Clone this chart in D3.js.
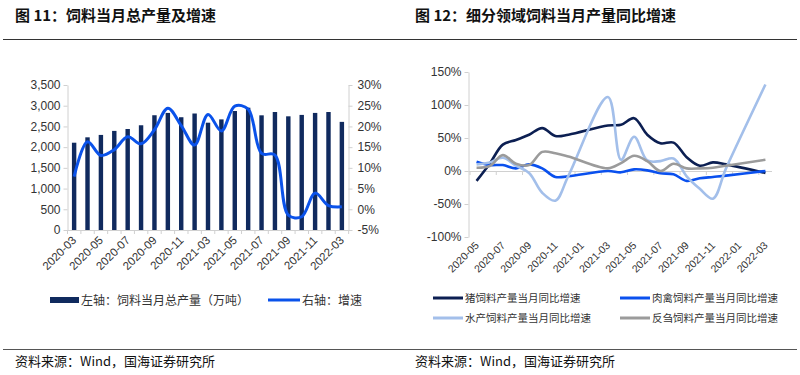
<!DOCTYPE html>
<html>
<head>
<meta charset="utf-8">
<script src="https://cdn.jsdelivr.net/npm/d3@7"></script>
<style>
  body { margin: 0; background: #fff; }
  svg { display: block; font-family: "Liberation Sans", Arial, sans-serif; }
  .cjk { font-family: "Noto Sans CJK SC", sans-serif; }
</style>
</head>
<body>
<div id="chart"></div>
<script>
const WIDTH = 800;
const HEIGHT = 375;

// left chart: monthly feed output (bars) and yoy growth (line)
const months = ["2020-03", "2020-04", "2020-05", "2020-06", "2020-07", "2020-08", "2020-09", "2020-10", "2020-11", "2020-12",
                "2021-03", "2021-04", "2021-05", "2021-06", "2021-07", "2021-08", "2021-09", "2021-10", "2021-11", "2021-12",
                "2022-03"];
const totalOutput = [2107, 2237, 2295, 2392, 2438, 2528, 2770, 2826, 2722, 2812,
                     2590, 2670, 2872, 2952, 2768, 2848, 2744, 2778, 2826, 2848, 2610];
const growth = [7.9, 16.3, 13.0, 14.4, 17.5, 15.8, 19.2, 24.4, 20.2, 15.5,
                22.9, 18.9, 24.9, 24.2, 13.5, 13.1, -1.4, -1.8, 3.9, 0.9, 0.6];
const leftTicks = [0, 500, 1000, 1500, 2000, 2500, 3000, 3500];
const rightTicks = [-5, 0, 5, 10, 15, 20, 25, 30];

// right chart: yoy growth by feed type (Jan/Feb not published)
const months2 = ["2020-05", "2020-06", "2020-07", "2020-08", "2020-09", "2020-10", "2020-11", "2020-12",
                 "2021-01", "2021-02", "2021-03", "2021-04", "2021-05", "2021-06", "2021-07", "2021-08",
                 "2021-09", "2021-10", "2021-11", "2021-12", "2022-01", "2022-02", "2022-03"];
const pig =     [-15, 11, 40, 47, 55, 65, 53, 55, null, null, 69, 70, 80, 55, 42, 43, 21, 8, 13, 10, null, null, -3];
const poultry = [14, 9, 9, 4, 10, 4, -9, -8, null, null, 0, -2, 2.5, 1, -3.5, -5, -15, -11, -9, -7, null, null, 0];
const aquatic = [10, 13, 20, 8, -3, -33, -45, -7, null, null, 112, 17, 52, 16, 15, 19, -8, -27, -42, 4, null, null, 131];
const ruminant = [5, 7.5, 24, 11, 9, 29, 27, 22, null, null, 4, 12, 23, 15, 0, 11, 4, 4, 5, 8, null, null, 17];
const pctTicks = [-100, -50, 0, 50, 100, 150];
const seriesNames = ["猪饲料产量当月同比增速", "肉禽饲料产量当月同比增速", "水产饲料产量当月同比增速", "反刍饲料产量当月同比增速"];

const AXIS_GREY = "#d0d0d0";
const TEXT = "#333";

var svg = d3.select("div#chart").append("svg")
    .attr("width", WIDTH)
    .attr("height", HEIGHT);

// titles, rules, source notes
svg.append("text").attr("class", "cjk").attr("x", 15).attr("y", 21)
    .attr("font-size", 15).attr("font-weight", "bold").attr("fill", "#111")
    .text("图 11：饲料当月总产量及增速");
svg.append("text").attr("class", "cjk").attr("x", 415).attr("y", 21)
    .attr("font-size", 15).attr("font-weight", "bold").attr("fill", "#111")
    .text("图 12：细分领域饲料当月产量同比增速");
svg.append("line").attr("x1", 3).attr("x2", 797).attr("y1", 39.5).attr("y2", 39.5)
    .attr("stroke", "#333").attr("stroke-width", 1);
svg.append("line").attr("x1", 3).attr("x2", 797).attr("y1", 349.5).attr("y2", 349.5)
    .attr("stroke", "#555").attr("stroke-width", 1);
[15, 415].forEach(x => {
  svg.append("text").attr("class", "cjk").attr("x", x).attr("y", 366)
      .attr("font-size", 13).attr("fill", "#111")
      .text("资料来源：Wind，国海证券研究所");
});

function styleAxis(g) {
  g.select(".domain").attr("stroke", AXIS_GREY);
  g.selectAll(".tick line").attr("stroke", AXIS_GREY);
  g.selectAll(".tick text").attr("fill", TEXT);
}

// ---------- left chart ----------
var x = d3.scaleBand(months, [67.5, 348.5]).paddingInner(0.67).paddingOuter(0.33);
var yL = d3.scaleLinear([0, 3500], [230, 85]);
var yR = d3.scaleLinear([-5, 30], [230, 85]);
var left = svg.append("g");

left.append("g")
    .attr("transform", "translate(67.5,0)")
    .style("font-size", "12px")
    .call(d3.axisLeft(yL).tickValues(leftTicks).tickFormat(d3.format(",")).tickSize(4).tickSizeOuter(0))
    .call(styleAxis);

left.append("g")
    .attr("transform", "translate(348.5,0)")
    .style("font-size", "12px")
    .call(d3.axisRight(yR).tickValues(rightTicks).tickFormat(d => d + "%").tickSize(4).tickSizeOuter(0))
    .call(styleAxis)
    .call(g => g.selectAll(".tick text").attr("x", 9));

// x axis: ticks on category boundaries
var step = x.step();
var bounds = d3.range(months.length + 1).map(i => x.range()[0] + i * step);
var xAxisG = left.append("g");
xAxisG.append("line").attr("x1", x.range()[0]).attr("x2", x.range()[1])
    .attr("y1", 230.5).attr("y2", 230.5).attr("stroke", AXIS_GREY);
xAxisG.selectAll("line.tk").data(bounds).join("line").attr("class", "tk")
    .attr("x1", d => d).attr("x2", d => d).attr("y1", 230).attr("y2", 234)
    .attr("stroke", AXIS_GREY);
xAxisG.selectAll("text").data(months.filter((d, i) => i % 2 === 0)).join("text")
    .attr("transform", d => `translate(${x(d) + x.bandwidth() / 2 + 3},${241}) rotate(-45)`)
    .attr("text-anchor", "end")
    .attr("font-size", 11.5)
    .attr("fill", TEXT)
    .text(d => d);

left.selectAll("rect.bar").data(totalOutput).join("rect")
    .attr("class", "bar")
    .attr("x", (d, i) => x(months[i]))
    .attr("width", x.bandwidth())
    .attr("y", d => yL(d))
    .attr("height", d => yL(0) - yL(d))
    .attr("fill", "#102a5e");

const growthLine = d3.line()
    .x((d, i) => x(months[i]) + x.bandwidth() / 2)
    .y(d => yR(d))
    .curve(d3.curveCatmullRom.alpha(0.5));

left.append("path")
    .attr("d", growthLine(growth))
    .attr("fill", "none")
    .attr("stroke", "#0a52ea")
    .attr("stroke-width", 3);

// left legend
left.append("rect").attr("x", 50).attr("y", 297).attr("width", 29).attr("height", 6).attr("fill", "#102a5e");
left.append("text").attr("class", "cjk").attr("x", 81).attr("y", 304.5)
    .attr("font-size", 12).attr("fill", TEXT).text("左轴：饲料当月总产量（万吨）");
left.append("line").attr("x1", 268).attr("x2", 300).attr("y1", 300).attr("y2", 300)
    .attr("stroke", "#0a52ea").attr("stroke-width", 3);
left.append("text").attr("class", "cjk").attr("x", 302).attr("y", 304.5)
    .attr("font-size", 12).attr("fill", TEXT).text("右轴：增速");

// ---------- right chart ----------
var x2 = d3.scaleBand(months2, [470, 772]);
var y2 = d3.scaleLinear([-100, 150], [237, 72]);
var right = svg.append("g");

right.append("g")
    .attr("transform", "translate(468.5,0)")
    .style("font-size", "12px")
    .call(d3.axisLeft(y2).tickValues(pctTicks).tickFormat(d => d + "%").tickSize(4).tickSizeOuter(0))
    .call(styleAxis);

var step2 = x2.step();
var bounds2 = d3.range(0, months2.length + 1, 2).map(i => x2.range()[0] + i * step2);
var xAxis2 = right.append("g");
xAxis2.append("line").attr("x1", 468.5).attr("x2", x2.range()[1])
    .attr("y1", y2(0) + 0.5).attr("y2", y2(0) + 0.5).attr("stroke", AXIS_GREY);
xAxis2.selectAll("line.tk").data(bounds2).join("line").attr("class", "tk")
    .attr("x1", d => d).attr("x2", d => d).attr("y1", y2(0)).attr("y2", y2(0) + 4)
    .attr("stroke", AXIS_GREY);
xAxis2.selectAll("text").data(months2.filter((d, i) => i % 2 === 0)).join("text")
    .attr("transform", d => `translate(${x2(d) + x2.bandwidth() / 2 + 3},${246}) rotate(-45)`)
    .attr("text-anchor", "end")
    .attr("font-size", 10.5)
    .attr("fill", TEXT)
    .text(d => d);

const seriesColors = ["#0c1f52", "#0a50ee", "#a3bfea", "#9b9b9b"];
const seriesData = [pig, poultry, aquatic, ruminant];

const pctLine = d3.line()
    .x(d => x2(d.m) + x2.bandwidth() / 2)
    .y(d => y2(d.v))
    .curve(d3.curveCatmullRom.alpha(0.5));

right.selectAll("path.series").data(seriesData).join("path")
    .attr("class", "series")
    .attr("d", vals => pctLine(vals.map((v, i) => ({ m: months2[i], v: v })).filter(d => d.v !== null)))
    .attr("fill", "none")
    .attr("stroke", (d, i) => seriesColors[i])
    .attr("stroke-width", 2.6);

// right legend
var legendPos = [[433, 298], [620, 298], [433, 318], [620, 318]];
var legend = right.selectAll("g.legend").data(seriesNames).join("g")
    .attr("class", "legend")
    .attr("transform", (d, i) => `translate(${legendPos[i][0]},${legendPos[i][1]})`);
legend.append("line").attr("x1", 0).attr("x2", 30).attr("stroke-width", 3)
    .attr("stroke", (d, i) => seriesColors[i]);
legend.append("text").attr("class", "cjk").attr("x", 32).attr("y", 4)
    .attr("font-size", 10.5).attr("fill", TEXT).text(d => d);
</script>
</body>
</html>
